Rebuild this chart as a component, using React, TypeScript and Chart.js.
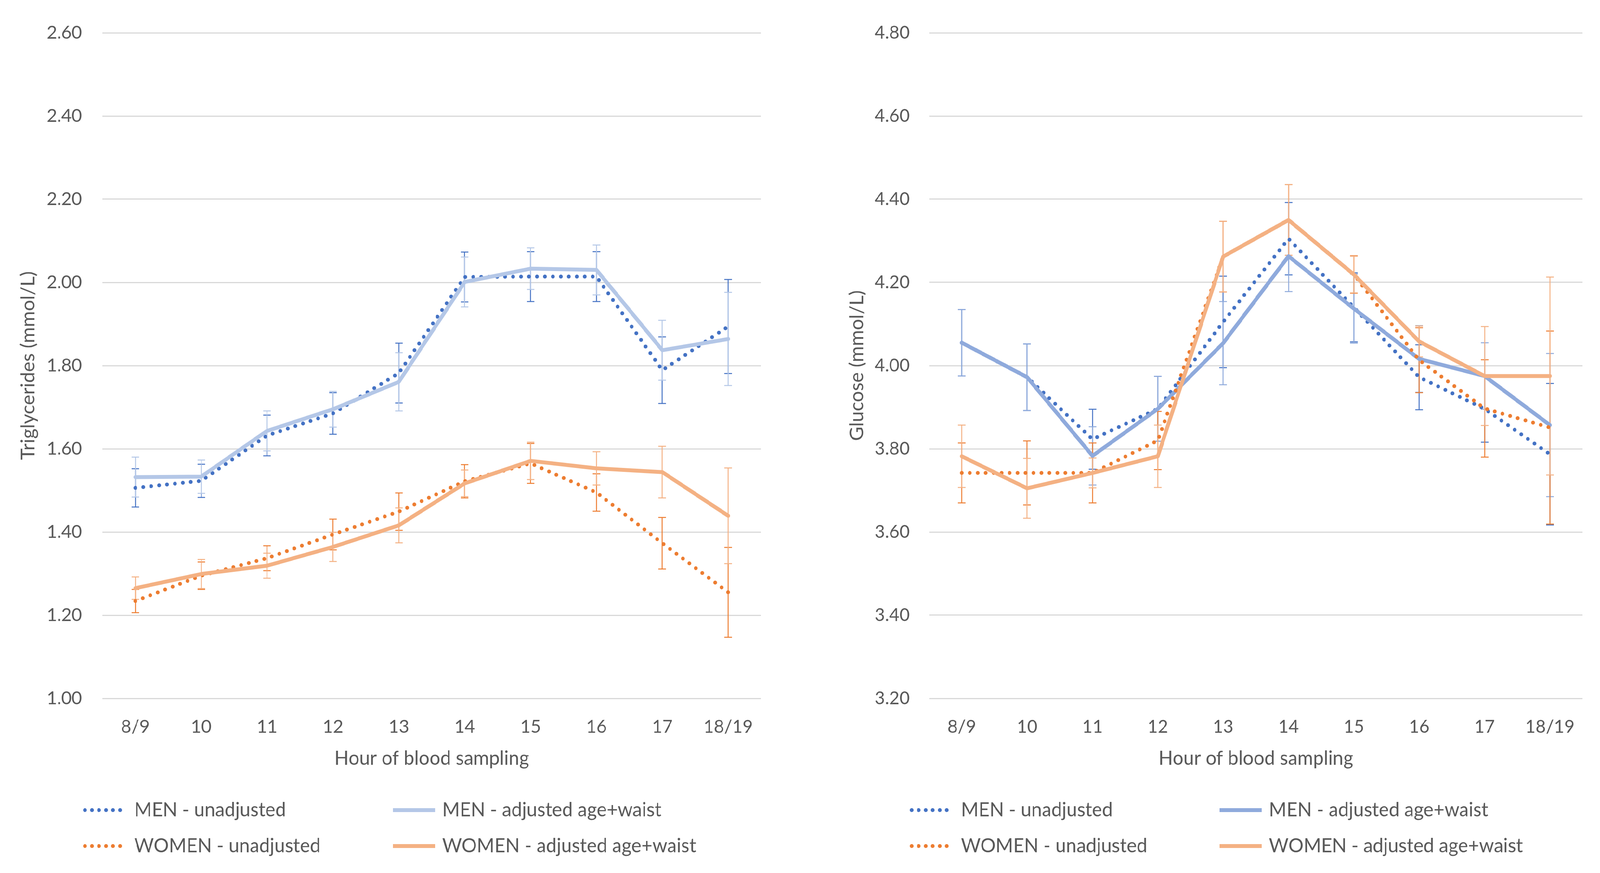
import React, { useEffect, useRef } from 'react';
import { Chart, registerables } from 'chart.js';

Chart.register(...registerables);

// ---------- data ----------
const hours = ['8/9', '10', '11', '12', '13', '14', '15', '16', '17', '18/19'];

// Triglycerides (mmol/L)
const tgMenUnadj = [1.506, 1.523, 1.632, 1.685, 1.782, 2.013, 2.014, 2.014, 1.789, 1.894];
const tgMenUnadjErr = [0.046, 0.040, 0.049, 0.050, 0.072, 0.060, 0.060, 0.060, 0.080, 0.113];
const tgMenAdj = [1.532, 1.533, 1.643, 1.695, 1.761, 2.001, 2.033, 2.030, 1.837, 1.864];
const tgMenAdjErr = [0.048, 0.040, 0.048, 0.043, 0.070, 0.060, 0.050, 0.060, 0.072, 0.112];
const tgWomenUnadj = [1.234, 1.295, 1.337, 1.394, 1.449, 1.522, 1.565, 1.495, 1.373, 1.255];
const tgWomenUnadjErr = [0.028, 0.033, 0.030, 0.037, 0.045, 0.040, 0.048, 0.045, 0.062, 0.108];
const tgWomenAdj = [1.265, 1.299, 1.319, 1.364, 1.416, 1.517, 1.571, 1.553, 1.544, 1.439];
const tgWomenAdjErr = [0.027, 0.035, 0.030, 0.035, 0.042, 0.032, 0.045, 0.040, 0.062, 0.115];
const tgTicks = { min: 1.0, max: 2.6, step: 0.2 };

// Glucose (mmol/L)
const glMenUnadj = [4.055, 3.972, 3.823, 3.896, 4.105, 4.305, 4.140, 3.972, 3.896, 3.787];
const glMenUnadjErr = [0.080, 0.080, 0.072, 0.078, 0.110, 0.087, 0.083, 0.078, 0.080, 0.170];
const glMenAdj = [4.055, 3.972, 3.783, 3.896, 4.054, 4.263, 4.137, 4.016, 3.975, 3.857];
const glMenAdjErr = [0.080, 0.080, 0.070, 0.078, 0.100, 0.085, 0.083, 0.080, 0.080, 0.172];
const glWomenUnadj = [3.742, 3.742, 3.742, 3.820, 4.262, 4.350, 4.219, 4.013, 3.897, 3.851];
const glWomenUnadjErr = [0.072, 0.077, 0.072, 0.070, 0.085, 0.085, 0.045, 0.078, 0.117, 0.232];
const glWomenAdj = [3.782, 3.705, 3.742, 3.782, 4.262, 4.350, 4.219, 4.058, 3.975, 3.975];
const glWomenAdjErr = [0.075, 0.072, 0.036, 0.075, 0.085, 0.085, 0.044, 0.037, 0.119, 0.238];
const glTicks = { min: 3.2, max: 4.8, step: 0.2 };

const seriesLabels = [
  'MEN - unadjusted',
  'MEN - adjusted age+waist',
  'WOMEN - unadjusted',
  'WOMEN - adjusted age+waist',
];
const xTitle = 'Hour of blood sampling';

// ---------- styles ----------
const FONT = 'Lato, sans-serif';
const TEXT = '#595959';
const GRID = '#D9D9D9';
const MEN_DARK = '#4472C4';
const WOMEN_DARK = '#ED7D31';
const WOMEN_LIGHT = '#F4B183';
const W = 4219;
const H = 2235;
const FS_TICK = 47;
const FS_TEXT = 50;
const LINE_W = 10;
const DOT_W = 10;
const DOT_GAP = 21;

const errorBarPlugin = {
  id: 'errorBars',
  beforeDatasetsDraw(chart: any, _args: any, opts: any) {
    const { ctx } = chart;
    const xs = chart.scales.x;
    const ys = chart.scales.y;
    const cap = 10;
    ctx.save();
    ctx.lineWidth = 2.5;
    for (const s of opts.sets || []) {
      const ds = chart.data.datasets[s.index];
      ctx.strokeStyle = s.color;
      ds.data.forEach((v: number, i: number) => {
        const e = s.errors[i];
        const px = Math.round(xs.getPixelForValue(i));
        const top = ys.getPixelForValue(v + e);
        const bot = ys.getPixelForValue(v - e);
        ctx.beginPath();
        ctx.moveTo(px, top);
        ctx.lineTo(px, bot);
        ctx.moveTo(px - cap, top);
        ctx.lineTo(px + cap, top);
        ctx.moveTo(px - cap, bot);
        ctx.lineTo(px + cap, bot);
        ctx.stroke();
      });
    }
    ctx.restore();
  },
};

const legendPlugin = {
  id: 'customLegend',
  afterDraw(chart: any, _args: any, opts: any) {
    const { ctx } = chart;
    const left = chart.chartArea.left;
    ctx.save();
    for (const it of opts.items || []) {
      const sx = left + it.dx;
      const sy = it.y;
      ctx.beginPath();
      ctx.strokeStyle = it.color;
      if (it.dotted) {
        ctx.lineWidth = DOT_W;
        ctx.setLineDash([0, 18.5]);
        ctx.lineCap = 'round';
      } else {
        ctx.lineWidth = LINE_W;
        ctx.setLineDash([]);
        ctx.lineCap = 'butt';
      }
      ctx.moveTo(sx, sy);
      ctx.lineTo(sx + 111, sy);
      ctx.stroke();
      ctx.setLineDash([]);
      ctx.fillStyle = TEXT;
      ctx.font = `${FS_TEXT}px ${FONT}`;
      ctx.textBaseline = 'middle';
      ctx.textAlign = 'left';
      ctx.fillText(it.label, sx + 130, sy);
    }
    ctx.restore();
  },
};

type Spec = {
  width: number;
  chartLeft: number;
  chartRight: number;
  yTitle: string;
  yTitlePad: number;
  yTickPad: number;
  ticks: { min: number; max: number; step: number };
  menUnadj: number[];
  menUnadjErr: number[];
  menAdj: number[];
  menAdjErr: number[];
  womenUnadj: number[];
  womenUnadjErr: number[];
  womenAdj: number[];
  womenAdjErr: number[];
  menLight: string;
};

function buildConfig(s: Spec): any {
  const dotted = { borderDash: [0, DOT_GAP], borderCapStyle: 'round', borderWidth: DOT_W };
  const solid = { borderCapStyle: 'round', borderWidth: LINE_W };
  return {
    type: 'line',
    data: {
      labels: hours,
      datasets: [
        { label: seriesLabels[0], data: s.menUnadj, borderColor: MEN_DARK, order: 4, ...dotted },
        { label: seriesLabels[1], data: s.menAdj, borderColor: s.menLight, order: 3, ...solid },
        { label: seriesLabels[2], data: s.womenUnadj, borderColor: WOMEN_DARK, order: 2, ...dotted },
        { label: seriesLabels[3], data: s.womenAdj, borderColor: WOMEN_LIGHT, order: 1, ...solid },
      ].map((d) => ({ ...d, pointRadius: 0, tension: 0, fill: false, borderJoinStyle: 'round' })),
    },
    options: {
      animation: false,
      responsive: false,
      devicePixelRatio: 1,
      layout: { padding: { left: 0, top: 84, right: s.width - s.chartRight, bottom: 255 } },
      scales: {
        x: {
          type: 'category',
          offset: true,
          grid: { display: false, drawTicks: false },
          border: { display: false },
          ticks: { color: TEXT, font: { family: FONT, size: FS_TICK }, padding: 45, maxRotation: 0 },
          title: { display: true, text: xTitle, color: TEXT, font: { family: FONT, size: FS_TEXT }, padding: { top: 0, bottom: 8 } },
          afterFit: (sc: any) => { sc.height = 192; },
        },
        y: {
          min: s.ticks.min,
          max: s.ticks.max,
          grid: { color: GRID, lineWidth: 3, drawTicks: false },
          border: { display: false },
          ticks: {
            stepSize: s.ticks.step,
            color: TEXT,
            font: { family: FONT, size: FS_TICK },
            padding: s.yTickPad,
            callback: (v: any) => Number(v).toFixed(2),
          },
          title: { display: true, text: s.yTitle, color: TEXT, font: { family: FONT, size: FS_TEXT }, padding: { top: s.yTitlePad, bottom: 0 } },
          afterFit: (sc: any) => { sc.width = s.chartLeft; },
        },
      },
      plugins: {
        legend: { display: false },
        tooltip: { enabled: false },
        errorBars: {
          sets: [
            { index: 0, errors: s.menUnadjErr, color: MEN_DARK },
            { index: 1, errors: s.menAdjErr, color: s.menLight },
            { index: 2, errors: s.womenUnadjErr, color: WOMEN_DARK },
            { index: 3, errors: s.womenAdjErr, color: WOMEN_LIGHT },
          ],
        },
        customLegend: {
          items: [
            { label: seriesLabels[0], color: MEN_DARK, dotted: true, dx: -46, y: 2074 },
            { label: seriesLabels[1], color: s.menLight, dotted: false, dx: 766, y: 2074 },
            { label: seriesLabels[2], color: WOMEN_DARK, dotted: true, dx: -46, y: 2166 },
            { label: seriesLabels[3], color: WOMEN_LIGHT, dotted: false, dx: 766, y: 2166 },
          ],
        },
      },
    },
    plugins: [errorBarPlugin, legendPlugin],
  };
}

function ChartPanel({ spec, left }: { spec: Spec; left: number }) {
  const ref = useRef<HTMLCanvasElement | null>(null);
  useEffect(() => {
    if (!ref.current) return;
    const chart = new Chart(ref.current, buildConfig(spec));
    return () => chart.destroy();
  }, []);
  return (
    <canvas
      ref={ref}
      width={spec.width}
      height={H}
      style={{ position: 'absolute', left, top: 0, width: spec.width, height: H }}
    />
  );
}

const leftSpec: Spec = {
  width: 2110,
  chartLeft: 270,
  chartRight: 2007,
  yTitle: 'Triglycerides (mmol/L)',
  yTitlePad: 45,
  yTickPad: 54,
  ticks: tgTicks,
  menUnadj: tgMenUnadj,
  menUnadjErr: tgMenUnadjErr,
  menAdj: tgMenAdj,
  menAdjErr: tgMenAdjErr,
  womenUnadj: tgWomenUnadj,
  womenUnadjErr: tgWomenUnadjErr,
  womenAdj: tgWomenAdj,
  womenAdjErr: tgWomenAdjErr,
  menLight: '#B4C7E7',
};

const rightSpec: Spec = {
  width: 2109,
  chartLeft: 340,
  chartRight: 2063,
  yTitle: 'Glucose (mmol/L)',
  yTitlePad: 120,
  yTickPad: 51,
  ticks: glTicks,
  menUnadj: glMenUnadj,
  menUnadjErr: glMenUnadjErr,
  menAdj: glMenAdj,
  menAdjErr: glMenAdjErr,
  womenUnadj: glWomenUnadj,
  womenUnadjErr: glWomenUnadjErr,
  womenAdj: glWomenAdj,
  womenAdjErr: glWomenAdjErr,
  menLight: '#8FAADC',
};

export default function App() {
  // The design is laid out at 4219x2235; fit it to the actual viewport.
  const kx = Math.min(1, window.innerWidth / W);
  const ky = Math.min(1, window.innerHeight / H);
  return (
    <div
      style={{
        position: 'absolute',
        left: 0,
        top: 0,
        width: W,
        height: H,
        background: '#fff',
        overflow: 'hidden',
        transform: `scale(${kx}, ${ky})`,
        transformOrigin: '0 0',
      }}
    >
      <ChartPanel spec={leftSpec} left={0} />
      <ChartPanel spec={rightSpec} left={2110} />
    </div>
  );
}
